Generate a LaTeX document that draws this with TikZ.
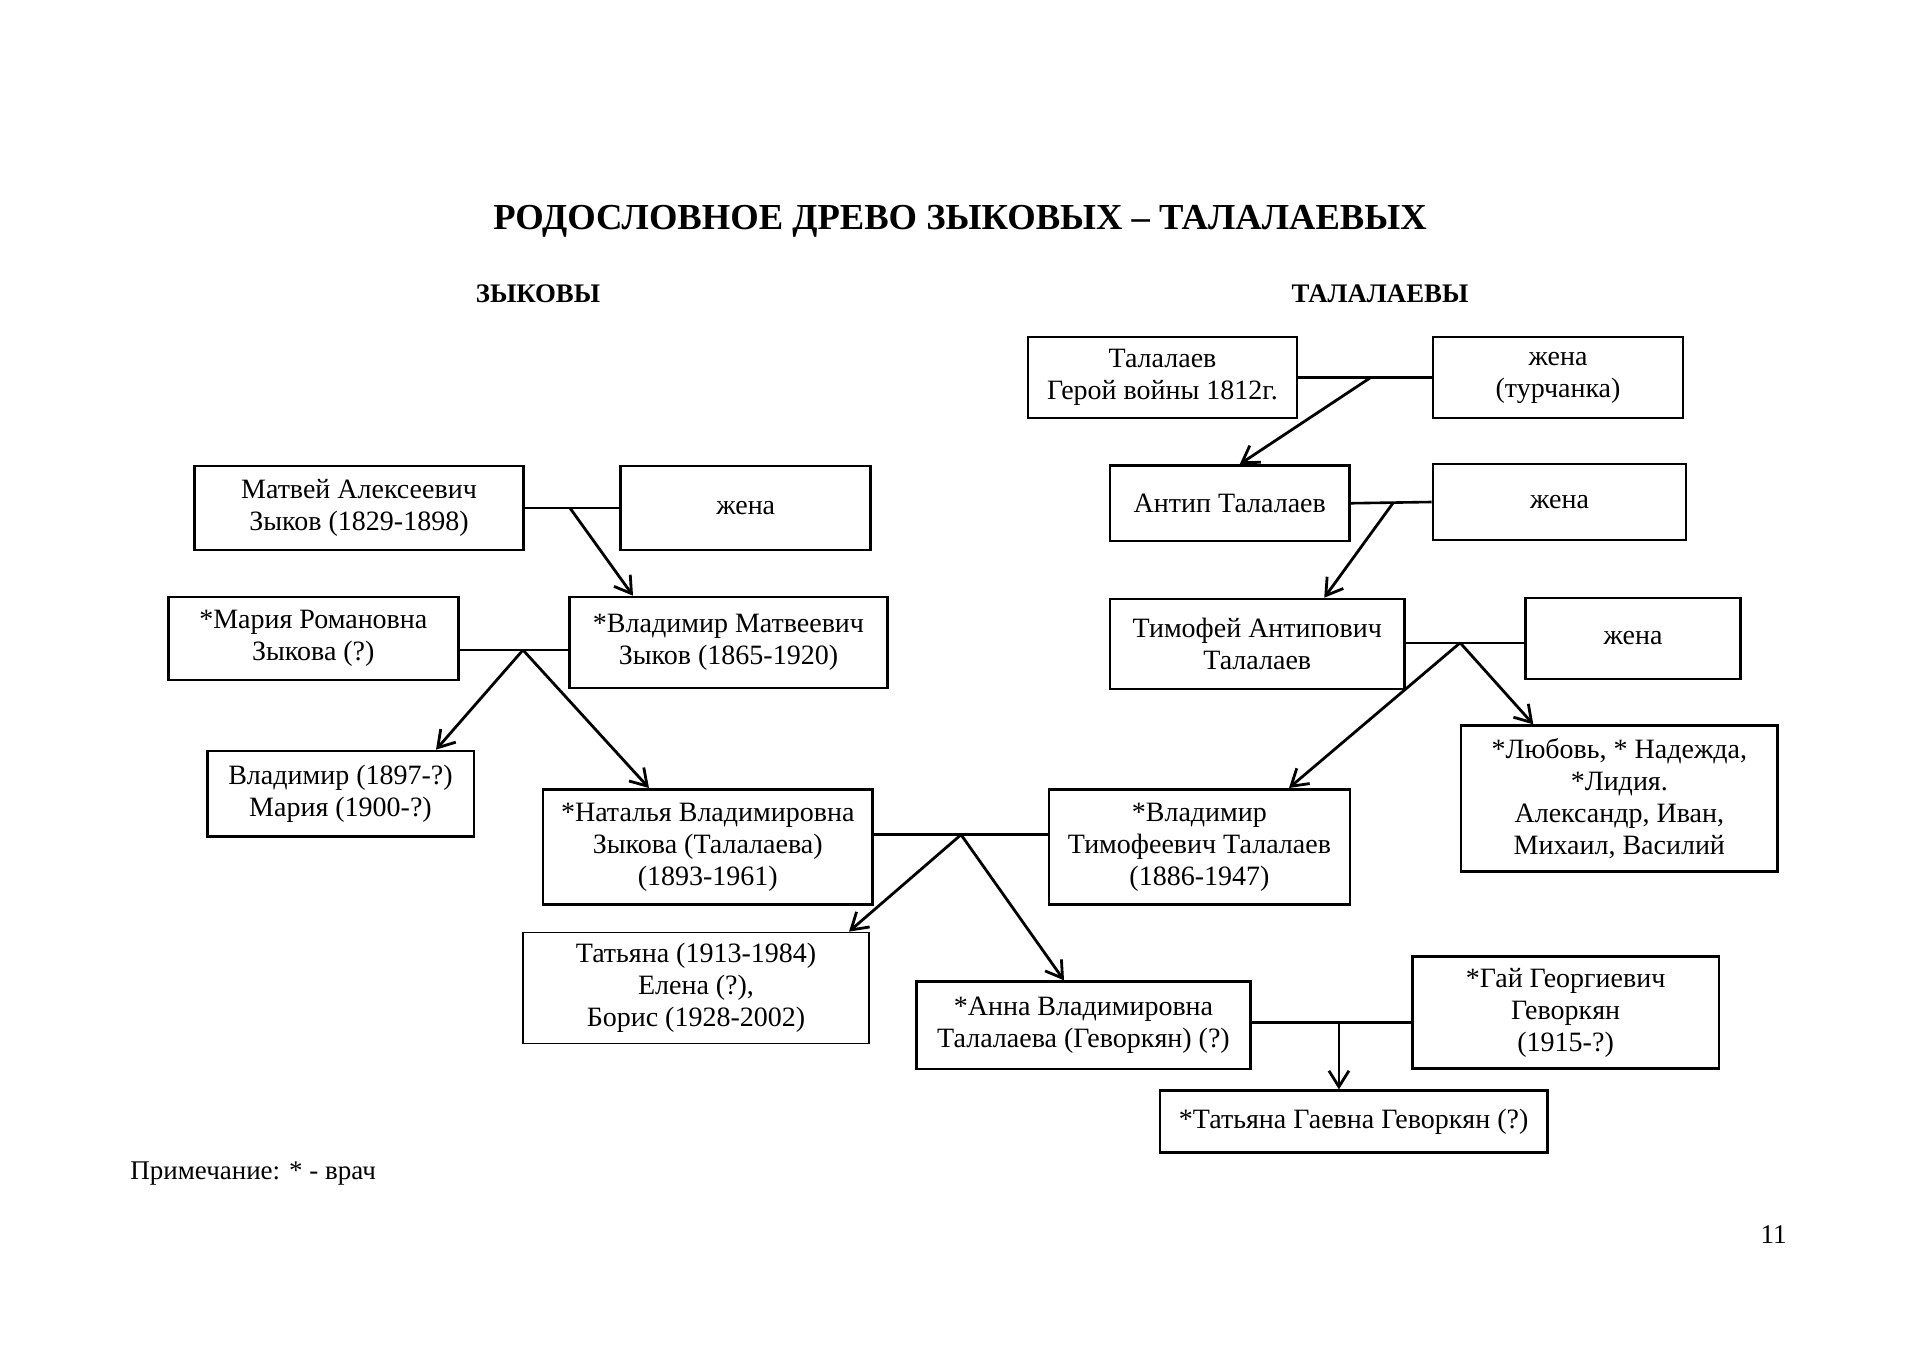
\documentclass[tikz,border=0pt]{standalone}
\usepackage{fontspec}
\setmainfont{Liberation Serif}
\usetikzlibrary{arrows.meta}
\begin{document}
\begin{tikzpicture}[x=0.5pt,y=-0.5pt,
  box/.style={draw, line width=1.3pt, inner sep=0pt, align=center, font=\fontsize{14}{16}\selectfont},
  sz/.style 2 args={minimum width=#1*0.5pt, minimum height=#2*0.5pt},
  arr/.style={line width=1.4pt, -{Straight Barb[length=8pt,width=10pt]}},
  ln/.style={line width=1.3pt}]
\useasboundingbox[fill=white] (0,0) rectangle (1920,1358);

% headings
\node[font=\fontsize{18.3}{22}\selectfont\bfseries, anchor=base] (title) at (960,230) {РОДОСЛОВНОЕ ДРЕВО ЗЫКОВЫХ – ТАЛАЛАЕВЫХ};
\node[font=\fontsize{13.4}{15}\selectfont\bfseries, anchor=base] (zyk) at (538,303) {ЗЫКОВЫ};
\node[font=\fontsize{13.4}{15}\selectfont\bfseries, anchor=base] (talh) at (1380,303) {ТАЛАЛАЕВЫ};
\node[font=\fontsize{13.5}{16}\selectfont, anchor=base west, inner sep=0pt] (note) at (130,1179) {Примечание: * - врач};
\node[font=\fontsize{13.5}{16}\selectfont, anchor=base east, inner sep=0pt] (pg) at (1787,1243) {11};

% Talalaev side
\node[box, sz={269}{81}] (tal) at (1162.5,377.5) {Талалаев\\Герой войны 1812г.};
\node[box, sz={250}{81}] (zhT) at (1558,377.5) {жена\\(турчанка)};
\node[box, sz={239.5}{75.5}] (antip) at (1229.75,503.25) {Антип Талалаев};
\node[box, sz={253}{76}] (zhA) at (1559.5,502) {жена};
\node[box, sz={294.5}{90}] (tim) at (1257.25,644) {Тимофей Антипович\\Талалаев};
\node[box, sz={215}{81}] (zhTim) at (1633,638.5) {жена};
\node[box, sz={316.7}{146}, font=\fontsize{14}{16}\selectfont] (lub) at (1619.3,798.7) {*Любовь, * Надежда,\\*Лидия.\\Александр, Иван,\\Михаил, Василий};
\node[box, sz={301}{115.4}] (vladT) at (1199.4,847) {*Владимир\\Тимофеевич Талалаев\\(1886-1947)};

% Zykov side
\node[box, sz={329}{84}] (matv) at (359,508) {Матвей Алексеевич\\Зыков (1829-1898)};
\node[box, sz={250}{84}] (zhM) at (745.75,508) {жена};
\node[box, sz={290}{83}] (mar) at (313.3,638.5) {*Мария Романовна\\Зыкова (?)};
\node[box, sz={318.5}{91}] (vladM) at (728.5,642.5) {*Владимир Матвеевич\\Зыков (1865-1920)};
\node[box, sz={266.6}{85.7}] (v97) at (340.5,793.8) {Владимир (1897-?)\\Мария (1900-?)};
\node[box, sz={329.5}{115.4}] (nat) at (707.75,847) {*Наталья Владимировна\\Зыкова (Талалаева)\\(1893-1961)};

% next generations
\node[box, line width=0.7pt, sz={346}{111.4}] (tat) at (696,988) {Татьяна (1913-1984)\\Елена (?),\\Борис (1928-2002)};
\node[box, sz={333.5}{87.3}] (anna) at (1083.5,1025.3) {*Анна Владимировна\\Талалаева (Геворкян) (?)};
\node[box, sz={306.7}{111.6}] (gay) at (1565.6,1012.5) {*Гай Георгиевич\\Геворкян\\(1915-?)};
\node[box, sz={387.3}{61.6}] (tatG) at (1353.6,1121.5) {*Татьяна Гаевна Геворкян (?)};

% marriage lines and descent arrows
\draw[ln] (tal.east) -- (zhT.west) coordinate[pos=0.543] (m1);
\draw[arr] (m1) -- ([xshift=5pt]antip.north);

\draw[ln] (antip.east) -- (zhA.west) coordinate[pos=0.526] (m2);
\draw[arr] (m2) -- ([xshift=33.5pt]tim.north);

\draw[ln] ([yshift=0.6pt]tim.east) -- ([yshift=0.6pt]tim.east -| zhTim.west) coordinate[pos=0.459] (m3);
\draw[arr] (m3) -- ([xshift=44.8pt]vladT.north);
\draw[arr] (m3) -- ([xshift=-43pt]lub.north);

\draw[ln] (matv.east) -- (zhM.west) coordinate[pos=0.477] (m4);
\draw[arr] (m4) -- ([xshift=-47.75pt]vladM.north);

\draw[ln] ([yshift=-5.75pt]mar.east) -- ([yshift=-5.75pt]mar.east -| vladM.west) coordinate[pos=0.585] (m5);
\draw[arr] (m5) -- ([xshift=47.75pt]v97.north);
\draw[arr] (m5) -- ([xshift=-29.4pt]nat.north);

\draw[ln] ([yshift=6.15pt]nat.east) -- ([yshift=6.15pt]nat.east -| vladT.west) coordinate[pos=0.502] (m6);
\draw[arr] (m6) -- ([xshift=76.5pt]tat.north);
\draw[arr] (m6) -- ([xshift=-9.75pt]anna.north);

\draw[ln] ([yshift=1.4pt]anna.east) -- ([yshift=1.4pt]anna.east -| gay.west) coordinate[pos=0.548] (m7);
\draw[arr] (m7) -- (m7 |- tatG.north);
\end{tikzpicture}
\end{document}
